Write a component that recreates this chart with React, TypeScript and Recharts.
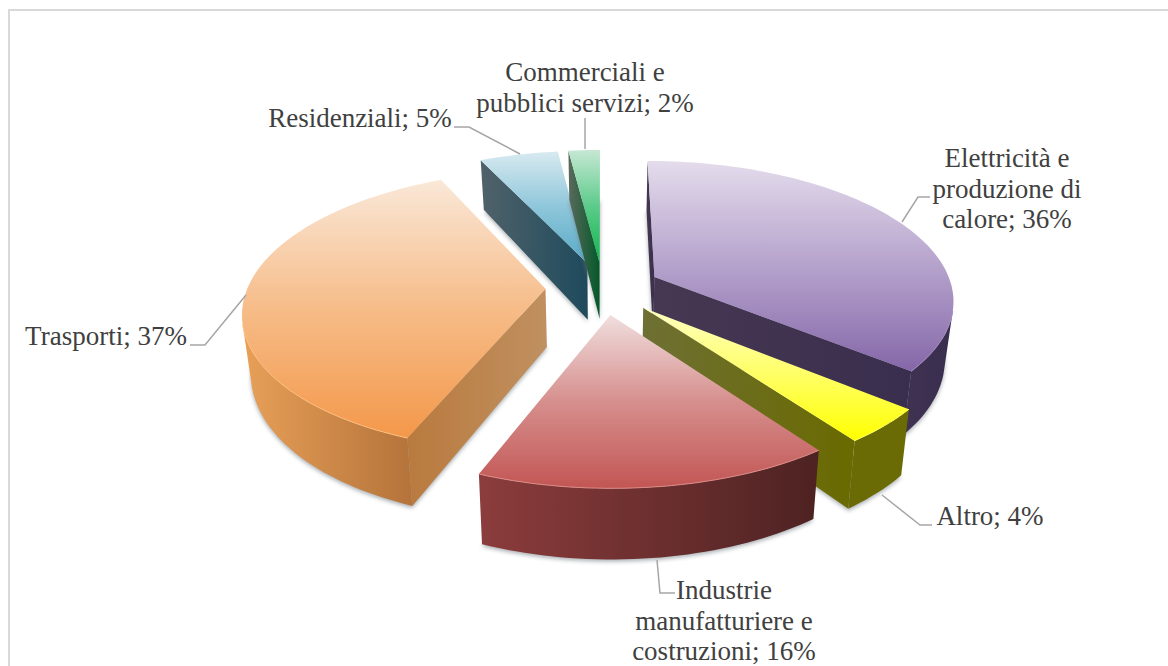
import React from "react";
import { PieChart, Pie } from "recharts";

// Shares of emissions by sector; the order sets the drawing order, back slices first.
const sectorNames = [
  "Residenziali",
  "Commerciali e pubblici servizi",
  "Elettricità e produzione di calore",
  "Altro",
  "Industrie manufatturiere e costruzioni",
  "Trasporti",
];
const sectorValues = [5, 2, 36, 4, 16, 37];
const labelLines = [
  ["Residenziali"],
  ["Commerciali e", "pubblici servizi"],
  ["Elettricità e", "produzione di", "calore"],
  ["Altro"],
  ["Industrie", "manufatturiere e", "costruzioni"],
  ["Trasporti"],
];

const chartData = sectorNames.map((name, i) => ({ name, value: sectorValues[i] }));

// Face colours per slice: top face (far, middle, near), radial wall, rim wall.
const palette = [
  { top: ["#d8eaf0", "#8ec6da", "#58aac6"], wall: ["#50626a", "#1e4a5c"], rimWall: ["#50626a", "#1e4a5c"], rim: "#8cc8da" },
  { top: ["#c6e8d4", "#5ccb8a", "#0fb64e"], wall: ["#5a6a5c", "#04582a"], rimWall: ["#5a6a5c", "#04582a"], rim: "#40c878" },
  { top: ["#e4dcec", "#b5a2cc", "#8567a8"], wall: ["#463852", "#3a2e4e"], rimWall: ["#3f3252", "#3a2e4e"], rim: "#a58cc4" },
  { top: ["#ffffc4", "#ffff66", "#ffff00"], wall: ["#6e7034", "#6a6a00"], rimWall: ["#6b6b06", "#6b6b06"], rim: "#ffff60" },
  { top: ["#f0dede", "#d68f8d", "#c25654"], wall: ["#8c3c3c", "#4e2222"], rimWall: ["#8c3c3c", "#4e2222"], rim: "#dc8c88" },
  { top: ["#fae8d8", "#f6bc88", "#f4984a"], wall: ["#b97a3e", "#c09060"], rimWall: ["#e8a058", "#b4733a"], rim: "#ffc080" },
];

// Label anchors and leader lines.
const labelLayout = [
  { x: 360, y: 127, leader: "M454 127 L469 127 L520 154" },
  { x: 585, y: 81, leader: "M585 118 L585 149" },
  { x: 1007, y: 167, leader: "M902 222 L918 197 L930 197" },
  { x: 990, y: 525, leader: "M882 495 L920 525 L932 525" },
  { x: 724, y: 599, leader: "M657 560 L660 593 L675 593" },
  { x: 106, y: 345, leader: "M190 345 L205 345 L246 295" },
];

const LINE_HEIGHT = 30.5;
const TILT = 0.46; // vertical squash of the pie plane
const PERSPECTIVE = 0.155;
const EXPLODE = 0.193;
const THICKNESS = 58;
const BASE_SCALE = 0.975;

type Pt = { x: number; y: number; k: number };
const toPath = (pts: { x: number; y: number }[]) =>
  "M" + pts.map((p) => `${p.x.toFixed(1)} ${p.y.toFixed(1)}`).join(" L") + " Z";

function Slice3D(props: any) {
  const { cx, cy, outerRadius: R, startAngle, endAngle, index } = props;
  const idx = index ?? sectorNames.indexOf(props.name);
  const colors = palette[idx];

  const theta0 = 90 - startAngle;
  const theta1 = 90 - endAngle;
  const mid = ((theta0 + theta1) / 2) * (Math.PI / 180);
  const ex = EXPLODE * Math.sin(mid);
  const ey = -EXPLODE * Math.cos(mid);

  const project = (x: number, y: number): Pt => {
    const k = 1 / (1 - PERSPECTIVE * y);
    return { x: cx + R * x * k, y: cy + R * TILT * y * k, k };
  };
  const drop = (p: Pt) => ({
    x: cx + (p.x - cx) * BASE_SCALE,
    y: p.y + THICKNESS * p.k,
  });

  const apex = project(ex, ey);
  const rim: Pt[] = [];
  const steps = Math.max(3, Math.ceil((theta1 - theta0) / 1.5));
  for (let i = 0; i <= steps; i++) {
    const t = ((theta0 + ((theta1 - theta0) * i) / steps) * Math.PI) / 180;
    rim.push(project(ex + Math.sin(t), ey - Math.cos(t)));
  }

  // A wall is visible when its outline winds counter-clockwise on screen.
  const faces = (a: Pt, b: Pt) => {
    const q = [a, b, drop(b), drop(a)];
    let s = 0;
    q.forEach((p, i) => {
      const n = q[(i + 1) % 4];
      s += p.x * n.y - n.x * p.y;
    });
    return s < 0;
  };

  const walls: { x: number; y: number }[][] = [];
  if (faces(apex, rim[0])) walls.push([apex, rim[0], drop(rim[0]), drop(apex)]);
  if (faces(rim[steps], apex)) walls.push([rim[steps], apex, drop(apex), drop(rim[steps])]);
  let run: Pt[] = [];
  const rimWalls: { x: number; y: number }[][] = [];
  const rimEdges: Pt[][] = [];
  const flush = () => {
    if (run.length > 1) {
      rimWalls.push([...run, ...run.map(drop).reverse()]);
      rimEdges.push(run);
    }
    run = [];
  };
  for (let i = 0; i < steps; i++) {
    if (faces(rim[i], rim[i + 1])) {
      if (!run.length) run.push(rim[i]);
      run.push(rim[i + 1]);
    } else {
      flush();
    }
  }
  flush();

  const base = [apex, ...rim].map(drop);
  const topId = `top-${idx}`;
  const wallId = `wall-${idx}`;
  const rimWallId = `rimwall-${idx}`;

  return (
    <g>
      <defs>
        <linearGradient id={topId} x1="0.5" y1="0" x2="0.5" y2="1">
          <stop offset="0" stopColor={colors.top[0]} />
          <stop offset="0.5" stopColor={colors.top[1]} />
          <stop offset="1" stopColor={colors.top[2]} />
        </linearGradient>
        <linearGradient id={wallId} x1="0" y1="0" x2="1" y2="0">
          <stop offset="0" stopColor={colors.wall[0]} />
          <stop offset="1" stopColor={colors.wall[1]} />
        </linearGradient>
        <linearGradient id={rimWallId} x1="0" y1="0" x2="1" y2="0">
          <stop offset="0" stopColor={colors.rimWall[0]} />
          <stop offset="1" stopColor={colors.rimWall[1]} />
        </linearGradient>
        <filter id={`soft-${idx}`} x="-10%" y="-10%" width="120%" height="120%">
          <feGaussianBlur stdDeviation="2" />
        </filter>
      </defs>
      <path
        d={toPath(base)}
        fill="#707880"
        opacity={0.6}
        transform="translate(0 2)"
        filter={`url(#soft-${idx})`}
      />
      {walls.map((w, i) => (
        <path key={i} d={toPath(w)} fill={`url(#${wallId})`} />
      ))}
      {rimWalls.map((w, i) => (
        <path key={i} d={toPath(w)} fill={`url(#${rimWallId})`} />
      ))}
      <path d={toPath([apex, ...rim])} fill={`url(#${topId})`} />
      {rimEdges.map((e, i) => (
        <path
          key={i}
          d={"M" + e.map((p) => `${p.x.toFixed(1)} ${p.y.toFixed(1)}`).join(" L")}
          fill="none"
          stroke={colors.rim}
          strokeWidth={1}
        />
      ))}
    </g>
  );
}

function SliceLabel(props: any) {
  const i = props.index;
  const layout = labelLayout[i];
  const lines = [...labelLines[i]];
  lines[lines.length - 1] += `; ${sectorValues[i]}%`;
  return (
    <g>
      <path d={layout.leader} fill="none" stroke="#a6a6a6" strokeWidth={1.5} />
      <text
        x={layout.x}
        y={layout.y}
        textAnchor="middle"
        fill="#404040"
        fontFamily="'Liberation Serif', serif"
        fontSize={27}
      >
        {lines.map((line, n) => (
          <tspan key={n} x={layout.x} dy={n === 0 ? 0 : LINE_HEIGHT}>
            {line}
          </tspan>
        ))}
      </text>
    </g>
  );
}

export default function App() {
  return (
    <div
      style={{
        position: "fixed",
        left: 0,
        top: 0,
        width: 1168,
        height: 666,
        overflow: "hidden",
        background: "#ffffff",
      }}
    >
      <div
        style={{
          position: "absolute",
          left: 8,
          top: 9,
          width: 1200,
          height: 700,
          border: "2px solid #d9d9d9",
        }}
      />
      <div style={{ position: "absolute", left: 0, top: 0 }}>
        <PieChart width={1168} height={666} margin={{ top: 0, right: 0, bottom: 0, left: 0 }}>
          <Pie
            data={chartData}
            dataKey="value"
            nameKey="name"
            cx={603}
            cy={288}
            innerRadius={0}
            outerRadius={298}
            startAngle={115.2}
            endAngle={-244.8}
            stroke="none"
            isAnimationActive={false}
            shape={Slice3D}
            label={SliceLabel}
            labelLine={false}
          />
        </PieChart>
      </div>
    </div>
  );
}
